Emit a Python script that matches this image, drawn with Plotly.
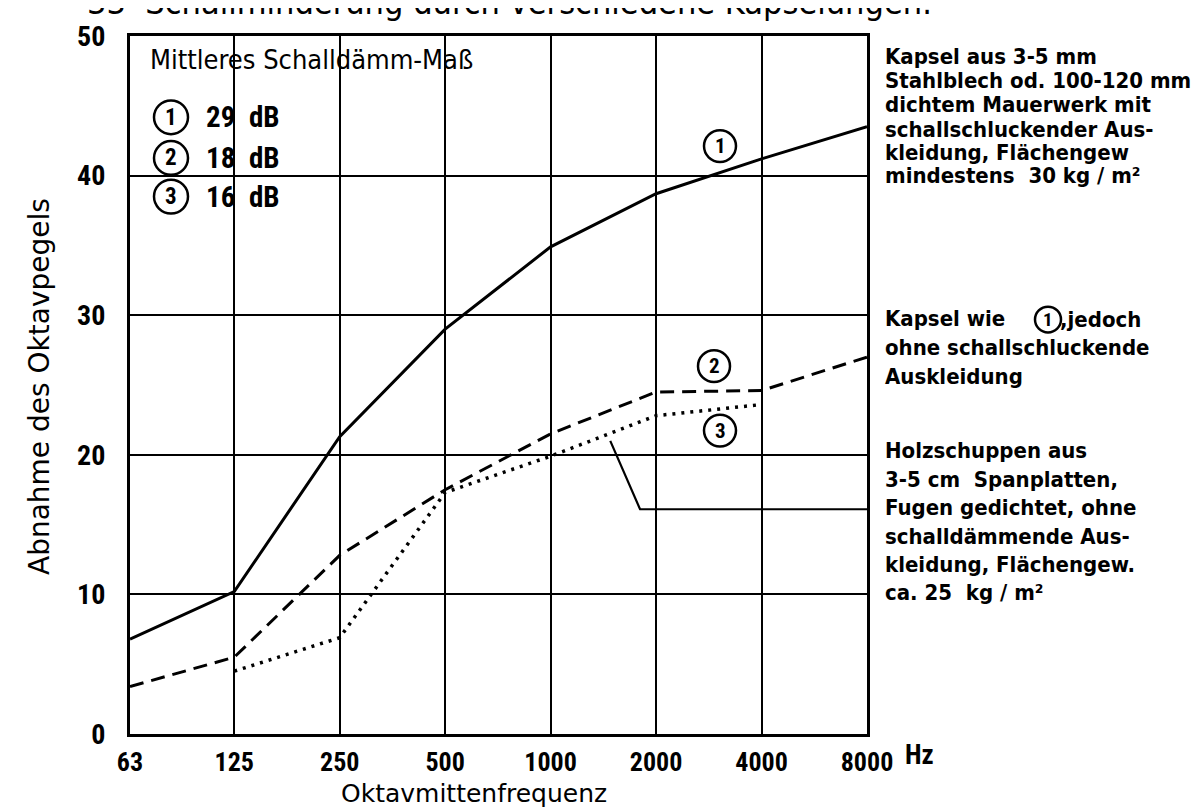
import math
import plotly.graph_objects as go

# ---------------- data ----------------
freqs = [63, 125, 250, 500, 1000, 2000, 4000, 8000]
freq_labels = ["63", "125", "250", "500", "1000", "2000", "4000", "8000"]

curve1_y = [6.8, 10.2, 21.3, 29.0, 34.9, 38.7, 41.2, 43.5]   # (1) solid
curve2_y = [3.4, 5.5, 12.8, 17.5, 21.5, 24.5, 24.6, 27.0]    # (2) dashed
curve3_x = [125, 250, 500, 1000, 2000, 4000]
curve3_y = [4.5, 6.9, 17.3, 19.9, 22.8, 23.6]                # (3) dotted

leader_x = [1480, 1800, 8000]
leader_y = [21.0, 16.1, 16.1]

y_ticks = [0, 10, 20, 30, 40, 50]

legend_title = "Mittleres Schalldämm-Maß"
legend_nums = ["1", "2", "3"]
legend_vals = ["29", "18", "16"]

block1 = ["Kapsel aus 3-5 mm", "Stahlblech od. 100-120 mm", "dichtem Mauerwerk mit",
          "schallschluckender Aus-", "kleidung, Flächengew", "mindestens  30 kg / m²"]
block2 = ["Kapsel wie", "ohne schallschluckende", "Auskleidung"]
block3 = ["Holzschuppen aus", "3-5 cm  Spanplatten,", "Fugen gedichtet, ohne",
          "schalldämmende Aus-", "kleidung, Flächengew.", "ca. 25  kg / m²"]

# ---------------- layout helpers ----------------
W, H = 1202, 809
PL, PR, PT, PB = 122, 859, 22, 726

def px(x):
    return (x - PL) / (PR - PL)

def py(y):
    return (PB - y) / (PB - PT)

COND = "DejaVu Sans Condensed, Liberation Sans Narrow, Roboto Condensed, DejaVu Sans, sans-serif"
NARROW = "Liberation Sans Narrow, Roboto Condensed, DejaVu Sans Condensed, sans-serif"
REG = "DejaVu Sans, sans-serif"

fig = go.Figure()
fig.add_trace(go.Scatter(x=freqs, y=curve1_y, mode="lines",
                         line=dict(color="black", width=3), showlegend=False))
fig.add_trace(go.Scatter(x=freqs, y=curve2_y, mode="lines",
                         line=dict(color="black", width=3, dash="14px,8px"), showlegend=False))
fig.add_trace(go.Scatter(x=curve3_x, y=curve3_y, mode="lines",
                         line=dict(color="black", width=3.5, dash="3px,6px"), showlegend=False))
fig.add_trace(go.Scatter(x=leader_x, y=leader_y, mode="lines", cliponaxis=False,
                         line=dict(color="black", width=2.2), showlegend=False))

ann = []
shapes = []

def text(x, y, s, size=22, font=COND, anchor="left", bold=False, angle=0):
    if bold:
        s = "<b>" + s + "</b>"
    ann.append(dict(x=px(x), y=py(y), xref="paper", yref="paper", text=s, showarrow=False,
                    xanchor=anchor, yanchor="middle", textangle=angle,
                    font=dict(family=font, size=size, color="black")))

def circled(cx, cy, r, digit, size=21):
    shapes.append(dict(type="circle", xref="paper", yref="paper",
                       x0=px(cx - r), x1=px(cx + r), y0=py(cy + r), y1=py(cy - r),
                       line=dict(color="black", width=2.5), fillcolor="white", layer="above"))
    ann.append(dict(x=px(cx), y=py(cy), xref="paper", yref="paper", text="<b>" + digit + "</b>",
                    showarrow=False, xanchor="center", yanchor="middle",
                    font=dict(family=NARROW, size=size, color="black")))

# cut-off title at the top
text(77, -12, "33  Schallminderung durch verschiedene Kapselungen.", size=34, font=COND)

# legend block
text(140, 46, legend_title, size=27)
for i, (n, v) in enumerate(zip(legend_nums, legend_vals)):
    yy = [104, 145, 184][i]
    circled(163, yy, 17, n, size=23)
    text(229, yy, v, size=29, font=NARROW, anchor="right", bold=True)
    text(239, yy, "dB", size=29, font=NARROW, bold=True)

# curve labels
circled(712, 133, 16, "1")
circled(706, 355, 16, "2")
circled(712, 420, 16, "3")

# right-side texts
for s, yy in zip(block1, [43, 67, 91, 116, 140, 163]):
    text(875, yy, s, size=22, bold=True)
for s, yy in zip(block2, [307, 336, 365]):
    text(875, yy, s, size=22, bold=True)
circled(1040, 308, 13, "1", size=19)
text(1050, 308, ",jedoch", size=22, bold=True)
for s, yy in zip(block3, [440, 469, 498, 527, 555, 583]):
    text(875, yy, s, size=22, bold=True)

# axis titles and unit
text(895, 747, "Hz", size=27, font=NARROW, bold=True)
text(466, 786, "Oktavmittenfrequenz", size=25, font=REG, anchor="center")
text(32, 376, "Abnahme des Oktavpegels", size=28, font=REG, anchor="center", angle=-90)

axis_common = dict(showgrid=True, gridcolor="black", gridwidth=1.5, showline=True,
                   linecolor="black", linewidth=3, mirror=True, ticks="", zeroline=False)

fig.update_layout(
    width=W, height=H, margin=dict(l=PL, r=W - PR, t=PT, b=H - PB),
    paper_bgcolor="white", plot_bgcolor="white",
    xaxis=dict(type="log", range=[math.log10(63), math.log10(8000)], tickvals=freqs,
               ticktext=["<b>%s</b>" % t for t in freq_labels], ticklabelstandoff=3,
               tickfont=dict(family=NARROW, size=26, color="black"), **axis_common),
    yaxis=dict(range=[0, 50], tickvals=y_ticks, ticktext=["<b>%d</b>" % t for t in y_ticks],
               ticklabelstandoff=16,
               tickfont=dict(family=NARROW, size=28, color="black"), **axis_common),
    annotations=ann, shapes=shapes, showlegend=False,
)

fig.write_html("out.html")
